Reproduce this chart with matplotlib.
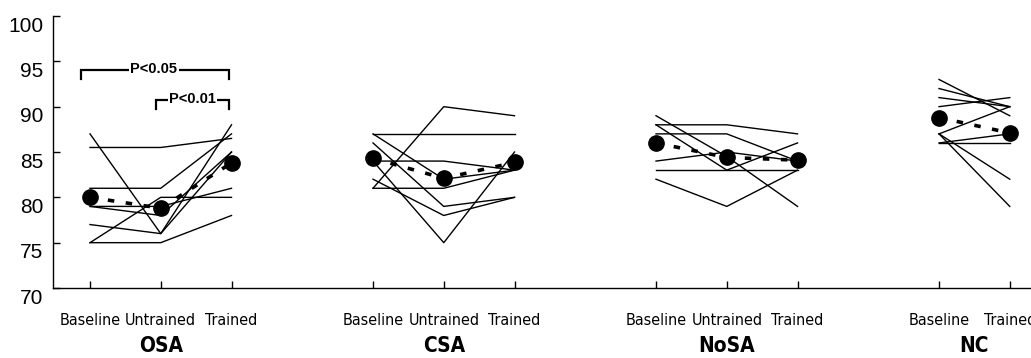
import matplotlib
matplotlib.use('Agg')
import matplotlib.pyplot as plt
from matplotlib.transforms import ScaledTranslation
from matplotlib import font_manager
from matplotlib.font_manager import FontProperties

# ---------------- data ----------------
groups = ['OSA', 'CSA', 'NoSA', 'NC']
osa_conditions = ['Baseline', 'Untrained', 'Trained']
csa_conditions = ['Baseline', 'Untrained', 'Trained']
nosa_conditions = ['Baseline', 'Untrained', 'Trained']
nc_conditions = ['Baseline', 'Trained']

osa_subjects = [
    [87, 76, 88],
    [85.5, 85.5, 86.5],
    [81, 81, 87],
    [79, 78, 85],
    [77, 76, 85],
    [75, 80, 80],
    [79, 79, 81],
    [75, 75, 78],
]
csa_subjects = [
    [87, 87, 87],
    [87, 82, 83],
    [86, 79, 80],
    [84, 75, 85],
    [84, 84, 83],
    [82, 78, 80],
    [81, 81, 83],
    [81, 90, 89],
]
nosa_subjects = [
    [89, 84.5, 79],
    [88, 83, 86],
    [88, 88, 87],
    [87, 87, 84],
    [84, 85, 84],
    [83, 83, 83],
    [82, 79, 83],
]
nc_subjects = [
    [93, 89],
    [92, 90],
    [91, 90],
    [90, 91],
    [87, 90],
    [87, 82],
    [87, 79],
    [86, 86],
    [86, 87],
]

osa_mean = [80.0, 78.8, 83.8]
csa_mean = [84.3, 82.1, 83.85]
nosa_mean = [86.0, 84.4, 84.1]
nc_mean = [88.8, 87.1]

y_ticks = [70, 75, 80, 85, 90, 95, 100]
p_labels = ['P<0.05', 'P<0.01']

# ---------------- fonts ----------------
def find_font(keys):
    files = [f.fname for f in font_manager.fontManager.ttflist]
    for k in keys:
        for fn in files:
            if fn.split('/')[-1].lower() == k.lower():
                return fn
    return None

narrow_reg = find_font(['LiberationSansNarrow-Regular.ttf', 'DejaVuSansCondensed.ttf'])
narrow_bold = find_font(['LiberationSansNarrow-Bold.ttf', 'DejaVuSansCondensed-Bold.ttf'])

def fp_narrow(size, bold=False):
    fn = narrow_bold if bold else narrow_reg
    if fn:
        return FontProperties(fname=fn, size=size)
    return FontProperties(family='Liberation Sans', size=size * 0.85,
                          weight='bold' if bold else 'normal')

regular = 'Liberation Sans'

# ---------------- figure ----------------
fig = plt.figure(figsize=(10.31, 3.58), dpi=100)
ax = fig.add_axes([0.0514, 0.1955, 0.9486, 0.7598])

group_data = [
    (osa_conditions, osa_subjects, osa_mean),
    (csa_conditions, csa_subjects, csa_mean),
    (nosa_conditions, nosa_subjects, nosa_mean),
    (nc_conditions, nc_subjects, nc_mean),
]

tick_pos = []
tick_lab = []
group_centers = []
for gi, (conds, subs, mean) in enumerate(group_data):
    xs = [gi * 4 + i for i in range(len(conds))]
    tick_pos += xs
    tick_lab += conds
    group_centers.append(sum(xs) / len(xs))
    for s in subs:
        ax.plot(xs, s, color='black', lw=1.0, zorder=2)
    ax.plot(xs, mean, color='black', lw=2.6, ls=(0, (1.8, 3.2)), zorder=3)
    ax.plot(xs, mean, 'o', color='black', ms=11, zorder=4)

ax.set_xlim(-0.523, 13.30)
ax.set_ylim(70, 100)
ax.set_yticks(y_ticks)
ax.set_yticklabels([str(t) for t in y_ticks], fontsize=15, family=regular)
ax.set_xticks(tick_pos)
ax.set_xticklabels(tick_lab)
for lab in ax.get_xticklabels():
    lab.set_fontproperties(fp_narrow(11.5))
ax.tick_params(axis='both', direction='in', length=5, width=1, color='black')
ax.tick_params(axis='y', pad=7)
ax.tick_params(axis='x', pad=18)
for sp in ['top', 'right']:
    ax.spines[sp].set_visible(False)
for sp in ['left', 'bottom']:
    ax.spines[sp].set_linewidth(1.0)

off = ScaledTranslation(0, -8 / 100, fig.dpi_scale_trans)
for lab in ax.get_yticklabels():
    lab.set_transform(lab.get_transform() + off)

# group labels
for gc, g in zip(group_centers, groups):
    ax.text(gc, -0.213, g, transform=ax.get_xaxis_transform(), ha='center', va='center',
            fontproperties=fp_narrow(15, bold=True))

# significance brackets
def bracket(x0, x1, y, drop, text, tx):
    ax.plot([x0, x0, x1, x1], [y - drop, y, y, y - drop], color='black', lw=1.6,
            solid_joinstyle='miter', zorder=5, clip_on=False)
    ax.text(tx, y + 0.15, text, ha='center', va='center', fontsize=10.5, fontweight='bold',
            family=regular, zorder=6,
            bbox=dict(facecolor='white', edgecolor='none', pad=1.0))

bracket(-0.13, 1.96, 94.0, 1.0, p_labels[0], 0.90)
bracket(0.93, 1.96, 90.7, 1.0, p_labels[1], 1.45)

fig.savefig('out.png', dpi=100)
